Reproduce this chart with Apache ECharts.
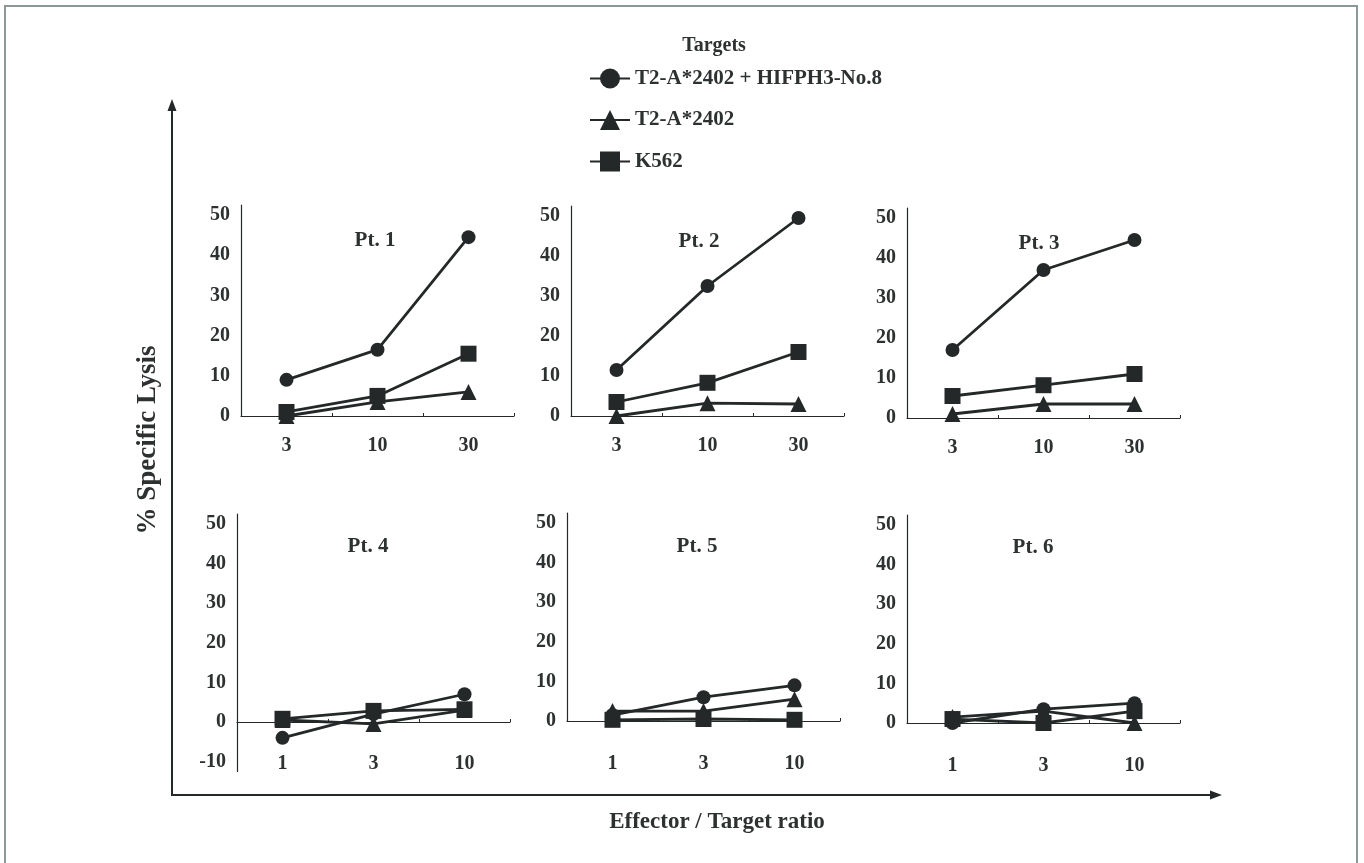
<!DOCTYPE html>
<html>
<head>
<meta charset="utf-8">
<style>
  html, body { margin: 0; padding: 0; background: #fff; }
  #chart { width: 1364px; height: 863px; }
</style>
<script src="https://cdn.jsdelivr.net/npm/echarts@6/dist/echarts.min.js"></script>
</head>
<body>
<div id="chart"></div>
<script>
// E:T ratios
const ratiosTop = ['3', '10', '30']
const ratiosBottom = ['1', '3', '10']
const targets = ['T2-A*2402 + HIFPH3-No.8', 'T2-A*2402', 'K562']

// % specific lysis, per patient: [peptide pulsed, T2-A*2402, K562]
const pt1Peptide = [9, 16.5, 44.5]
const pt1T2 = [0, 3.5, 6]
const pt1K562 = [1, 5, 15.5]

const pt2Peptide = [11.5, 32.5, 49.5]
const pt2T2 = [0, 3.2, 3]
const pt2K562 = [3.5, 8.3, 16]

const pt3Peptide = [17, 37, 44.5]
const pt3T2 = [1, 3.5, 3.5]
const pt3K562 = [5.5, 8.2, 11]

const pt4Peptide = [-4, 2, 7]
const pt4T2 = [0.5, -0.5, 3]
const pt4K562 = [0.8, 2.8, 3.2]

const pt5Peptide = [1.5, 6, 9]
const pt5T2 = [2.5, 2.5, 5.5]
const pt5K562 = [0.3, 0.5, 0.3]

const pt6Peptide = [0, 3.5, 5]
const pt6T2 = [1.5, 3, 0]
const pt6K562 = [1, 0, 3]

const panels = [
  { name: 'Pt. 1', cats: ratiosTop, data: [pt1Peptide, pt1T2, pt1K562] },
  { name: 'Pt. 2', cats: ratiosTop, data: [pt2Peptide, pt2T2, pt2K562] },
  { name: 'Pt. 3', cats: ratiosTop, data: [pt3Peptide, pt3T2, pt3K562] },
  { name: 'Pt. 4', cats: ratiosBottom, data: [pt4Peptide, pt4T2, pt4K562] },
  { name: 'Pt. 5', cats: ratiosBottom, data: [pt5Peptide, pt5T2, pt5K562] },
  { name: 'Pt. 6', cats: ratiosBottom, data: [pt6Peptide, pt6T2, pt6K562] }
]

// layout of each small panel
const layout = [
  { left: 241, top: 205, height: 211, min: 0, labelMargin: 20, titleX: 375, titleY: 241 },
  { left: 571, top: 206, height: 210, min: 0, labelMargin: 20, titleX: 699, titleY: 242 },
  { left: 907, top: 208, height: 210, min: 0, labelMargin: 20, titleX: 1039, titleY: 244 },
  { left: 237, top: 514, height: 257.5, min: -12.5, labelMargin: 32, titleX: 368, titleY: 547 },
  { left: 567, top: 513, height: 208, min: 0, labelMargin: 33, titleX: 697, titleY: 547 },
  { left: 907, top: 515, height: 208, min: 0, labelMargin: 33, titleX: 1033, titleY: 548 }
]
const yMax = 52.5

const ink = '#242828'
const textInk = '#2e3131'
const font = 'Liberation Serif'
const symbols = ['circle', 'triangle', 'rect']
const symbolSizes = [14, 16, 16]

const chart = echarts.init(document.getElementById('chart'))

const grids = [], xAxes = [], yAxes = [], series = [], labels = []
panels.forEach((p, i) => {
  const l = layout[i]
  grids.push({ left: l.left, top: l.top, width: 273, height: l.height })
  // move the category axis up to the zero line when the panel goes below zero
  const zeroOffset = l.min < 0 ? -l.height * (-l.min) / (yMax - l.min) : 0
  xAxes.push({
    type: 'category', gridIndex: i, data: p.cats, boundaryGap: true,
    offset: zeroOffset,
    axisLine: { onZero: false, lineStyle: { color: ink, width: 1.2 } },
    axisTick: { show: true, inside: true, length: 3, lineStyle: { color: ink } },
    axisLabel: { color: textInk, fontFamily: font, fontWeight: 'bold', fontSize: 20, margin: l.labelMargin }
  })
  yAxes.push({
    type: 'value', gridIndex: i, min: l.min, max: yMax, interval: 2.5,
    splitLine: { show: false },
    axisLine: { show: true, onZero: false, lineStyle: { color: ink, width: 1.2 } },
    axisTick: { show: false },
    axisLabel: {
      color: textInk, fontFamily: font, fontWeight: 'bold', fontSize: 20, margin: 11,
      formatter: v => (Math.abs(v % 10) < 1e-6 ? String(v) : '')
    }
  })
  labels.push({
    type: 'text', x: l.titleX, y: l.titleY,
    style: { text: p.name, fill: textInk, font: 'bold 21px "Liberation Serif"',
      align: 'center', verticalAlign: 'middle' }
  })
  p.data.forEach((vals, k) => {
    series.push({
      name: targets[k], type: 'line', xAxisIndex: i, yAxisIndex: i,
      data: vals, symbol: symbols[k], symbolSize: symbolSizes[k],
      lineStyle: { color: ink, width: 2.8 },
      itemStyle: { color: ink },
      animation: false
    })
  })
})

chart.setOption({
  backgroundColor: '#fff',
  animation: false,
  legend: {
    data: targets, orient: 'vertical', left: 584, top: 63,
    itemWidth: 40, itemHeight: 25, itemGap: 20.5,
    textStyle: { color: textInk, fontFamily: font, fontWeight: 'bold', fontSize: 21 }
  },
  grid: grids,
  xAxis: xAxes,
  yAxis: yAxes,
  series: series,
  graphic: labels.concat([
    { type: 'rect', shape: { x: 5, y: 6, width: 1352, height: 880 },
      style: { fill: 'none', stroke: '#8c9898', lineWidth: 2 }, silent: true },
    { type: 'text', x: 714, y: 46,
      style: { text: 'Targets', fill: textInk, font: 'bold 20px "Liberation Serif"',
        align: 'center', verticalAlign: 'middle' } },
    { type: 'line', shape: { x1: 172, y1: 795, x2: 172, y2: 108 },
      style: { stroke: ink, lineWidth: 2 } },
    { type: 'polygon', shape: { points: [[172, 99], [167.5, 111], [176.5, 111]] },
      style: { fill: ink } },
    { type: 'line', shape: { x1: 171, y1: 795, x2: 1212, y2: 795 },
      style: { stroke: ink, lineWidth: 2 } },
    { type: 'polygon', shape: { points: [[1222, 795], [1210, 790.5], [1210, 799.5]] },
      style: { fill: ink } },
    { type: 'text', x: 148, y: 440, rotation: Math.PI / 2,
      style: { text: '% Specific Lysis', fill: textInk, font: 'bold 27px "Liberation Serif"',
        align: 'center', verticalAlign: 'middle' } },
    { type: 'text', x: 717, y: 822,
      style: { text: 'Effector / Target ratio', fill: textInk, font: 'bold 23px "Liberation Serif"',
        align: 'center', verticalAlign: 'middle' } }
  ])
})
</script>
</body>
</html>
